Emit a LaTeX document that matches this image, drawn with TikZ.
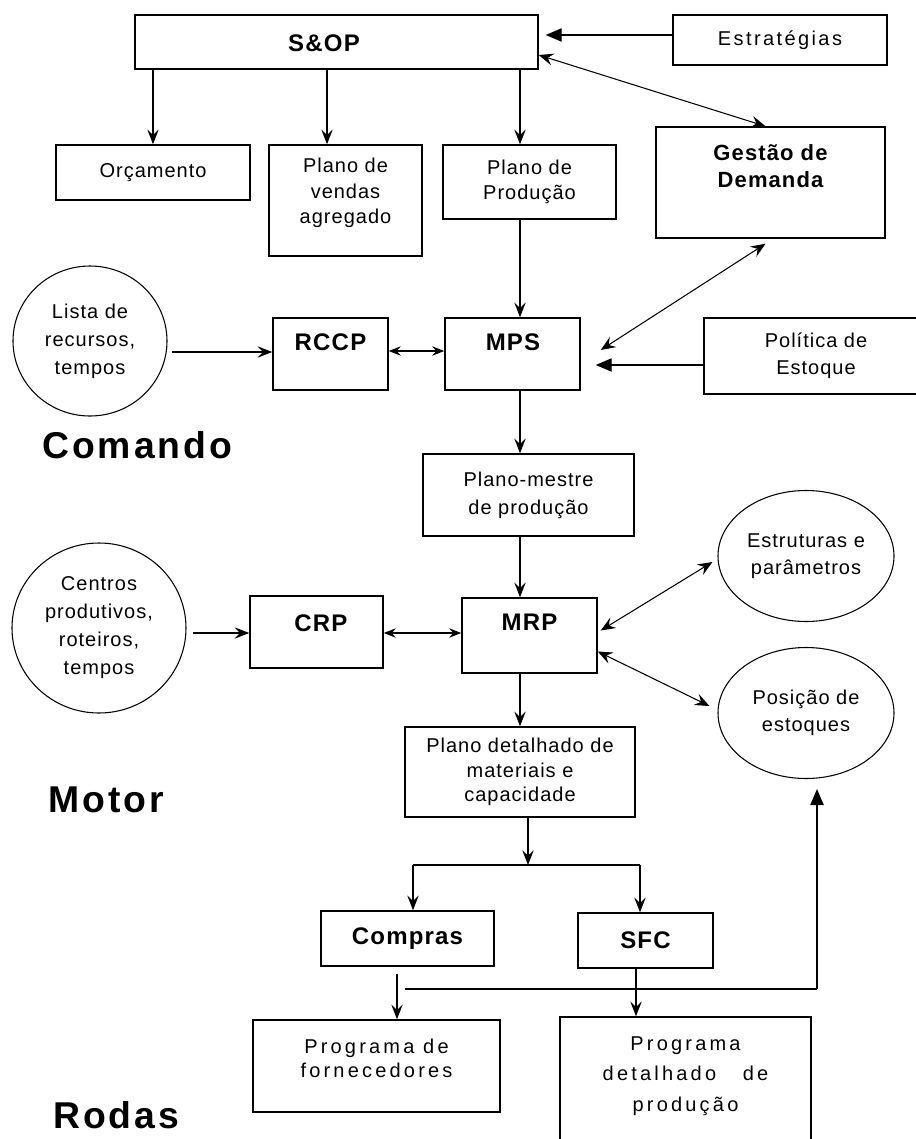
\documentclass[tikz,border=0pt]{standalone}
\usepackage{fontspec}
\setmainfont{Liberation Sans}[LetterSpace=5]
\usetikzlibrary{arrows.meta,shapes.geometric}
\def\pxu{0.75pt}
\begin{document}
\begin{tikzpicture}[x=0.75pt,y=-0.75pt,
  box/.style={draw, line width=1.1pt, inner sep=0pt, align=center, font=\fontsize{15}{19}\selectfont},
  circ/.style={draw, ellipse, line width=0.8pt, inner sep=0pt, align=center},
  txt/.style={inner sep=0pt, align=center, font=\fontsize{15}{19}\selectfont},
  btxt/.style={inner sep=0pt, align=center, font=\bfseries\fontsize{18}{22}\selectfont},
  big/.style={inner sep=0pt, anchor=base west, font=\bfseries\addfontfeatures{LetterSpace=8}\fontsize{28}{32}\selectfont},
  ln/.style={line width=1pt},
  dn/.style={ln, -{Stealth[length=11pt,width=8.5pt,inset=4pt]}},
  tri/.style={ln, -{Triangle[length=12pt,width=10pt]}},
  bi/.style={ln, {Stealth[length=9pt,width=7pt,inset=3pt]}-{Stealth[length=9pt,width=7pt,inset=3pt]}},
  bithin/.style={line width=0.8pt, {Stealth[length=11pt,width=9pt,inset=4pt]}-{Stealth[length=11pt,width=9pt,inset=4pt]}}
]
\useasboundingbox (0,0) rectangle (916,1139);
\clip (0,0) rectangle (916,1139);

% ---- boxes ----
\node[box, minimum width=403*\pxu, minimum height=54*\pxu] (sop) at (336.5,42) {};
\node[btxt] (sopT) at (324,43) {S\&OP};
\node[box, minimum width=214*\pxu, minimum height=50*\pxu, font=\addfontfeatures{LetterSpace=12}\fontsize{15}{19}\selectfont] (estr) at (780,40) {Estratégias};
\node[box, minimum width=194*\pxu, minimum height=55*\pxu] (orc) at (153,172.5) {Orçamento};
\node[box, minimum width=153*\pxu, minimum height=111*\pxu] (pv) at (345.5,200.5) {};
\node[txt] (pvT) at (345.5,193) {Plano de\\vendas\\agregado};
\node[box, minimum width=173*\pxu, minimum height=74*\pxu] (pp) at (529.5,182) {Plano de\\Produção};
\node[box, minimum width=229*\pxu, minimum height=111*\pxu] (gd) at (770.5,182.5) {};
\node[btxt, font=\bfseries\fontsize{16.5}{20}\selectfont] (gdT) at (770.5,166) {Gestão de\\Demanda};

\node[circ, minimum width=154*\pxu, minimum height=150*\pxu, font=\fontsize{15}{21}\selectfont] (lista) at (90,341) {Lista de\\recursos,\\tempos};
\node[box, minimum width=115*\pxu, minimum height=72*\pxu] (rccp) at (330.5,354) {};
\node[btxt] (rccpT) at (330.5,342) {RCCP};
\node[box, minimum width=135*\pxu, minimum height=72*\pxu] (mps) at (512.5,354) {};
\node[btxt] (mpsT) at (513,342) {MPS};
\node[box, minimum width=226*\pxu, minimum height=76*\pxu] (pol) at (817,356) {};
\node[txt, font=\fontsize{15}{20}\selectfont] (polT) at (816,356) {Política de\\Estoque};

\node[big] (comando) at (42,458) {Comando};

\node[box, minimum width=211*\pxu, minimum height=82*\pxu, font=\fontsize{15}{21}\selectfont] (plm) at (528.5,495) {Plano-mestre\\de produção};

\node[circ, minimum width=176*\pxu, minimum height=131*\pxu, font=\fontsize{15}{20}\selectfont] (estrut) at (806,556) {Estruturas e\\parâmetros};
\node[circ, minimum width=174*\pxu, minimum height=170*\pxu, font=\fontsize{15}{21}\selectfont] (centros) at (99,628) {Centros\\produtivos,\\roteiros,\\tempos};
\node[box, minimum width=133*\pxu, minimum height=72*\pxu] (crp) at (316.5,632) {};
\node[btxt] (crpT) at (321,623) {CRP};
\node[box, minimum width=135*\pxu, minimum height=75*\pxu] (mrp) at (529.5,635.5) {};
\node[btxt] (mrpT) at (529.5,622) {MRP};
\node[circ, minimum width=176*\pxu, minimum height=131*\pxu, font=\fontsize{15}{20}\selectfont] (pos) at (806,713) {Posição de\\estoques};

\node[box, minimum width=230*\pxu, minimum height=90*\pxu, font=\fontsize{15}{18.5}\selectfont] (pdm) at (520,772) {Plano detalhado de\\materiais e\\capacidade};

\node[big] (motor) at (48,812) {Motor};

\node[box, minimum width=173*\pxu, minimum height=55*\pxu, font=\bfseries\fontsize{18}{22}\selectfont] (compras) at (407.5,938.5) {Compras};
\node[box, minimum width=135*\pxu, minimum height=55*\pxu, font=\bfseries\fontsize{18}{22}\selectfont] (sfc) at (645.5,940.5) {SFC};

\node[box, minimum width=247*\pxu, minimum height=92*\pxu] (pfor) at (376.5,1066) {};
\node[txt, font=\addfontfeatures{LetterSpace=16}\fontsize{15}{18}\selectfont] (pforT) at (376.5,1058) {Programa de\\fornecedores};
\node[box, minimum width=251*\pxu, minimum height=150*\pxu] (pdp) at (685.5,1092) {};
\node[txt, font=\addfontfeatures{LetterSpace=16}\fontsize{15}{23}\selectfont] (pdpT) at (685.5,1076) {Programa\\detalhado\hspace{20pt}de\\produção};

\node[big] (rodas) at (53,1128) {Rodas};

% ---- helper coordinates ----
\coordinate (spine) at (520,0);
\coordinate (pvx) at (327,0);
\coordinate (la) at (172,352);
\coordinate (ca) at (193,633);
\coordinate (jn) at (528,865);
\coordinate (jl) at (413,865);
\coordinate (jr) at (640,865);
\coordinate (cx) at (397,0);
\coordinate (sx) at (636,0);
\coordinate (fb1) at (405,989);
\coordinate (fb2) at (817,989);

% ---- connectors ----
\draw[tri] ([yshift=5*\pxu]estr.west) -- ([xshift=7*\pxu,yshift=7*\pxu]sop.east);
\draw[dn] (orc.north |- sop.south) -- (orc.north);
\draw[dn] (pvx |- sop.south) -- (pvx |- pv.north);
\draw[dn] (spine |- sop.south) -- (spine |- pp.north);
\draw[bithin] ([yshift=-13*\pxu]sop.east) -- ([xshift=-5*\pxu]gd.north);

\draw[dn] (spine |- pp.south) -- (spine |- mps.north);
\draw[bithin] ([xshift=-5*\pxu,yshift=-5*\pxu]gd.south) -- ([xshift=20*\pxu,yshift=4*\pxu]mps.east);
\draw[tri] ([yshift=-9*\pxu]pol.west) -- ([xshift=15*\pxu,yshift=-11*\pxu]mps.east);
\draw[dn] (la) -- (la -| rccp.west);
\draw[bi] ([yshift=3*\pxu]rccp.east) -- ([yshift=3*\pxu]mps.west);

\draw[dn] (spine |- mps.south) -- (spine |- plm.north);
\draw[dn] (spine |- plm.south) -- (spine |- mrp.north);

\draw[dn] (ca) -- (ca -| crp.west);
\draw[bi] (crp.east |- ca) -- (mrp.west |- ca);
\draw[bithin] ([xshift=3*\pxu,yshift=5*\pxu]mrp.east) -- ([xshift=-5*\pxu,yshift=-6*\pxu]estrut.west);
\draw[bithin] ([yshift=-16*\pxu]mrp.east) -- ([xshift=-8*\pxu,yshift=7*\pxu]pos.west);

\draw[dn] (spine |- mrp.south) -- (spine |- pdm.north);
\draw[dn] (pdm.south -| jn) -- (jn);
\draw[ln] (jl) -- (jr);
\draw[dn] (jl) -- (jl |- compras.north);
\draw[dn] (jr) -- (jr |- sfc.north);

\draw[dn, shorten <=7*\pxu] (cx |- compras.south) -- (cx |- pfor.north);
\draw[dn] (sx |- sfc.south) -- (sx |- pdp.north);
\draw[ln] (fb1) -- (fb2);
\draw[tri, shorten >=10*\pxu] (fb2) -- (fb2 |- pos.south);
\end{tikzpicture}
\end{document}
